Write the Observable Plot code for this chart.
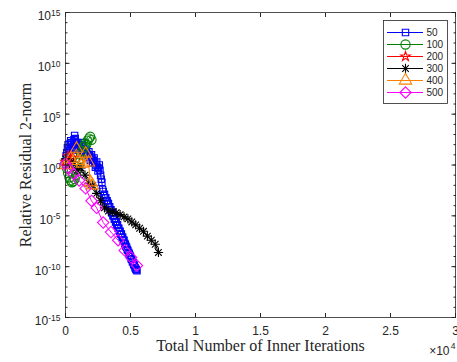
<!DOCTYPE html>
<html><head><meta charset="utf-8">
<script src="https://cdn.jsdelivr.net/npm/d3@7"></script>
<script src="https://cdn.jsdelivr.net/npm/@observablehq/plot@0.6"></script>
<style>
body{margin:0;background:#fff;}
#wrap{position:relative;width:457px;height:362px;overflow:hidden;}
#legend{position:absolute;left:383px;top:20px;}
</style></head><body><div id="wrap"><div id="chart"></div><div id="legend"></div></div>
<script>
// ---- data ----
const seriesNames = ["50", "100", "200", "300", "400", "500"];
const seriesColors = ["#0000ff", "#008000", "#ff0000", "#000000", "#ff8000", "#ff00ff"];

const x50 = [0,50,100,150,200,250,300,350,400,450,500,550,600,650,700,750,800,850,900,950,
  1000,1050,1100,1150,1200,1250,1300,1350,1400,1450,1500,1550,1600,1650,1700,1750,1800,1850,1900,1950,
  2000,2050,2100,2150,2200,2250,2300,2350,2400,2450,2500,2550,2600,2650,2700,2750,
  2800,2850,2900,2950,3000,3050,3100,3150,3200,3250,3300,3350,3400,3450,3500,3550,3600,3650,3700,3750,
  3800,3850,3900,3950,4000,4050,4100,4150,4200,4250,4300,4350,4400,4450,4500,4550,4600,4650,4700,4750,
  4800,4850,4900,4950,5000,5050,5100,5150,5200,5250,5300,5350,5400,5450,5500];
const y50 = [2e0,8e0,1.6e1,5e1,1e2,4e1,2.5e1,1.3e2,2.5e2,1.6e2,1e2,3e1,5e1,3e2,8e2,4e2,1.6e2,8e1,4e1,1.3e2,
  1e2,3e1,1.6e1,4e1,6e1,1e2,1.6e2,6e1,2.5e1,1.3e1,1e1,2e1,3e1,1.3e1,6e0,1e1,2e1,8e0,3e0,6e0,
  1e1,4e0,1.6e0,3e0,5e0,1.6e0,6e-1,1e0,2e0,6e-1,2.5e-1,5e-1,1e0,3e-1,1e-1,4e-2,
  2e-2,4e-3,2.5e-3,1e-3,1.3e-3,6e-4,6e-4,3e-4,3e-4,1.6e-4,1.6e-4,8e-5,8e-5,4e-5,4e-5,2e-5,2e-5,1e-5,1e-5,5e-6,
  5e-6,2.5e-6,2.5e-6,1.3e-6,1.3e-6,6e-7,6e-7,3e-7,3e-7,1.6e-7,1.6e-7,8e-8,8e-8,4e-8,4e-8,2e-8,1.6e-8,1e-8,8e-9,5e-9,
  4e-9,2.5e-9,2e-9,1.3e-9,1e-9,6e-10,5e-10,3e-10,2.5e-10,1.6e-10,1.3e-10,8e-11,6e-11,5e-11,4e-11];

const x100 = [0,100,200,300,400,500,600,700,800,900,1000,1100,1200,1300,1400,1500,1600,1700,1800,1900,2000];
const y100 = [1.6e0,5e-1,1.6e-1,6e-2,3e-2,2e-2,2.5e-2,4e-2,1e-1,4e-1,1.6e0,4e0,1e1,2.5e1,6e1,1.3e2,1e2,2.5e2,4e2,6e2,3e2];

const x200 = [0,200,400,600];
const y200 = [2e0,8e0,3e0,5e0];

const x300 = [0,300,600,900,1200,1500,1800,2100,2400,2700,3000,3300,3600,3900,4200,4500,4800,5100,5400,5700,6000,6300,6600,6900,7150];
const y300 = [4e0,1e0,2e0,3e-1,5e-1,1e-1,1.6e-2,1e-2,1.6e-3,3e-4,6e-5,3e-5,2.5e-5,2e-5,1.3e-5,8e-6,5e-6,2.5e-6,1.3e-6,6e-7,3e-7,1e-7,4e-8,1.6e-8,2.5e-9];

const x400 = [0,400,850,1000,1300,1550,1770,1920,2080];
const y400 = [1e0,4e0,4e1,2.5e0,1.4e0,1.3e1,1.8e0,2e-2,1e-2];

const x500 = [0,250,600,1050,1550,2000,2400,2900,3500,4050,4550,5050,5500];
const y500 = [1.4e0,4.5e-1,1.4e-1,3e-2,5e-3,3e-4,6e-5,2.2e-6,2.5e-7,4e-8,4e-9,8e-10,1.3e-10];

const xTicks = [0,5000,10000,15000,20000,25000,30000];
const yMajorTicks = [1e-15,1e-10,1e-5,1e0,1e5,1e10,1e15];
const yMinorExponents = [-15,-14,-13,-12,-11,-10,-9,-8,-7,-6,-5,-4,-3,-2,-1,0,1,2,3,4,5,6,7,8,9,10,11,12,13,14,15];

const xLabel = "Total Number of Inner Iterations";
const yLabel = "Relative Residual 2-norm";

// ---- build ----
const xs = [x50, x100, x200, x300, x400, x500];
const ys = [y50, y100, y200, y300, y400, y500];
const symbols = [["square"], ["circle"], ["star"], ["plus", "times"], ["triangle"], ["diamond2"]];
const radii = [3.6, 4.6, 3, 3.1, 4.6, 5.1];

const series = seriesNames.map((name, i) => ({
  name, color: seriesColors[i], symbols: symbols[i], r: radii[i],
  data: xs[i].map((x, j) => ({x, y: ys[i][j]}))
}));

const axisColor = "#262626";
const sansFont = "'Liberation Sans', Arial, Helvetica, sans-serif";
const serifFont = "'Liberation Serif', 'Times New Roman', serif";
const yMinorTicks = yMinorExponents.map(e => Math.pow(10, e));

const marks = [];
for (const s of series) {
  marks.push(Plot.line(s.data, {x: "x", y: "y", stroke: s.color, strokeWidth: 1}));
  for (const sym of s.symbols) {
    marks.push(Plot.dot(s.data, {x: "x", y: "y", symbol: sym, r: s.r, stroke: s.color, fill: "none", strokeWidth: 1.1}));
  }
}

const noText = () => "";
marks.push(
  Plot.frame({stroke: axisColor, strokeWidth: 0.8}),
  Plot.axisX(xTicks, {anchor: "bottom", tickSize: 0, tickPadding: 9, fontSize: 12, tickFormat: d => String(d / 1e4), label: null, color: axisColor}),
  Plot.axisX(xTicks, {anchor: "bottom", tickSize: -4, tickFormat: noText, label: null, color: axisColor}),
  Plot.axisX(xTicks, {anchor: "top", tickSize: -4, tickFormat: noText, label: null, color: axisColor}),
  Plot.axisY(yMajorTicks, {anchor: "left", tickSize: 0, tickPadding: 5, dy: 4, fontSize: 12, tickFormat: d => "10^" + Math.round(Math.log10(d)), label: null, color: axisColor}),
  Plot.axisY(yMajorTicks, {anchor: "left", tickSize: -4.5, tickFormat: noText, label: null, color: axisColor}),
  Plot.axisY(yMinorTicks, {anchor: "left", tickSize: -2.5, tickFormat: noText, label: null, color: axisColor}),
  Plot.axisY(yMajorTicks, {anchor: "right", tickSize: -4.5, tickFormat: noText, label: null, color: axisColor}),
  Plot.axisY(yMinorTicks, {anchor: "right", tickSize: -2.5, tickFormat: noText, label: null, color: axisColor}),
  Plot.text([xLabel], {frameAnchor: "bottom", textAnchor: "middle", dy: 33, fontFamily: serifFont, fontSize: 16, fill: axisColor}),
  Plot.text([yLabel], {frameAnchor: "left", textAnchor: "middle", rotate: -90, dx: -40, fontFamily: serifFont, fontSize: 16, fill: axisColor}),
  Plot.text(["\u00d710"], {frameAnchor: "bottom-right", textAnchor: "end", dx: -6, dy: 37, fontSize: 12, fill: axisColor}),
  Plot.text(["4"], {frameAnchor: "bottom-right", textAnchor: "end", dx: 0, dy: 31, fontSize: 8.5, fill: axisColor})
);

const chart = Plot.plot({
  width: 457, height: 362,
  marginLeft: 65, marginRight: 2, marginTop: 12, marginBottom: 45,
  x: {domain: [0, 30000]},
  y: {type: "log", domain: [1e-15, 1e15]},
  style: {fontFamily: sansFont, fontSize: "12px", background: "#fff", color: axisColor, overflow: "visible"},
  marks
});

// superscripts on y tick labels
d3.select(chart).selectAll("text").each(function () {
  const t = this.textContent;
  if (!/^10\^/.test(t)) return;
  const [b, e] = t.split("^");
  this.textContent = b;
  d3.select(this).append("tspan").attr("dy", "-0.5em").attr("font-size", "8.5px").text(e);
});
document.getElementById("chart").append(chart);

// ---- legend ----
const legendMarks = [Plot.frame({fill: "#fff", stroke: axisColor, strokeWidth: 0.8})];
for (const s of series) {
  legendMarks.push(Plot.ruleY([s.name], {y: d => d, x1: 0, x2: 1, stroke: s.color, strokeWidth: 1}));
  for (const sym of s.symbols) {
    legendMarks.push(Plot.dot([s.name], {y: d => d, x: 0.5, symbol: sym, r: s.r, stroke: s.color, fill: "none", strokeWidth: 1.1}));
  }
  legendMarks.push(Plot.text([s.name], {y: d => d, x: 1, dx: 3, text: d => d, textAnchor: "start", fontSize: 10, fill: axisColor}));
}
const legend = Plot.plot({
  width: 64, height: 83, margin: 0,
  x: {domain: [0, 1], range: [4, 40], axis: null},
  y: {type: "point", domain: seriesNames, range: [9.7, 74.2], padding: 0, axis: null},
  style: {fontFamily: sansFont, fontSize: "10px", background: "transparent", overflow: "visible"},
  marks: legendMarks
});
document.getElementById("legend").append(legend);
</script></body></html>
